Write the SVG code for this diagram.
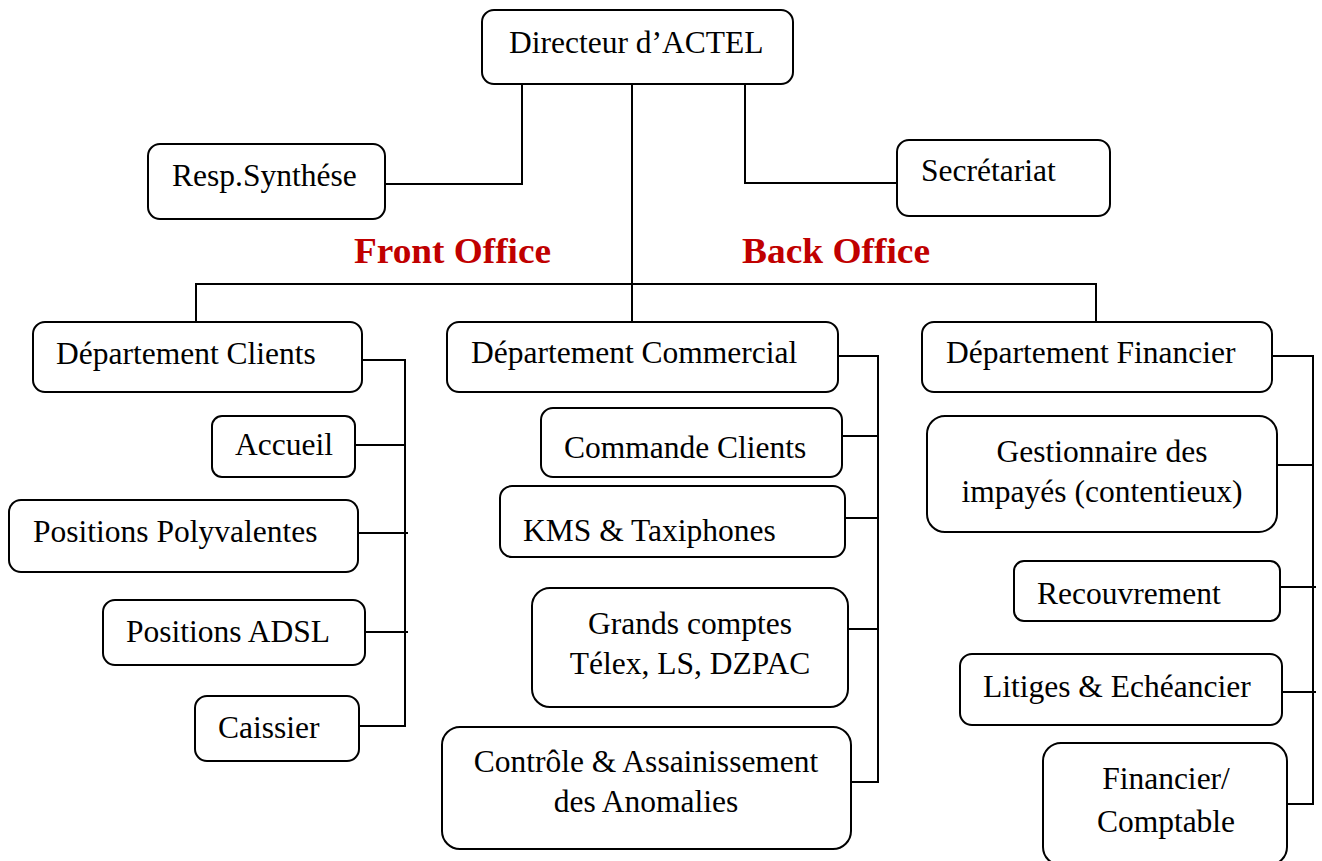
<svg xmlns="http://www.w3.org/2000/svg" width="1322" height="861" viewBox="0 0 1322 861">
<style>
.box{fill:#fff;stroke:#000;stroke-width:2}
.t{font-family:"Liberation Serif","Times New Roman",serif;font-size:31.5px;fill:#000}
.c{text-anchor:middle}
.lbl{font-family:"Liberation Serif","Times New Roman",serif;font-size:35px;font-weight:bold;fill:#C00000}
.ln{fill:none;stroke:#000;stroke-width:2}
</style>
<rect width="1322" height="861" fill="#fff"/>
<g id="connectors">
<path class="ln" d="M385,184 H522 V84"/>
<path class="ln" d="M745,84 V183 H897"/>
<path class="ln" d="M632,84 V322"/>
<path class="ln" d="M196,322 V284 H1096 V322"/>
<path class="ln" d="M362,360 H405 V726 H359"/>
<path class="ln" d="M355,445 H405"/>
<path class="ln" d="M358,533 H408"/>
<path class="ln" d="M365,632 H408"/>
<path class="ln" d="M838,356 H878 V782 H851"/>
<path class="ln" d="M842,436 H878"/>
<path class="ln" d="M845,518 H878"/>
<path class="ln" d="M848,629 H878"/>
<path class="ln" d="M1272,356 H1313 V804 H1287"/>
<path class="ln" d="M1277,465 H1313"/>
<path class="ln" d="M1280,587 H1316"/>
<path class="ln" d="M1282,692 H1316"/>
</g>
<g id="labels">
<text class="lbl" x="354" y="263" textLength="197" lengthAdjust="spacingAndGlyphs">Front Office</text>
<text class="lbl" x="742" y="263" textLength="188" lengthAdjust="spacingAndGlyphs">Back Office</text>
</g>
<g id="directeur"><rect class="box" x="482" y="10" width="311" height="74" rx="12"/><text class="t" x="509" y="53">Directeur d’ACTEL</text></g>
<g id="resp-synthese"><rect class="box" x="148" y="144" width="237" height="75" rx="12"/><text class="t" x="172" y="186">Resp.Synthése</text></g>
<g id="secretariat"><rect class="box" x="897" y="140" width="213" height="76" rx="12"/><text class="t" x="921" y="181">Secrétariat</text></g>

<g id="dep-clients"><rect class="box" x="33" y="322" width="329" height="70" rx="12"/><text class="t" x="56" y="364">Département Clients</text></g>
<g id="accueil"><rect class="box" x="212" y="416" width="143" height="61" rx="10"/><text class="t" x="235" y="455">Accueil</text></g>
<g id="positions-polyvalentes"><rect class="box" x="9" y="500" width="349" height="72" rx="12"/><text class="t" x="33" y="542">Positions Polyvalentes</text></g>
<g id="positions-adsl"><rect class="box" x="103" y="600" width="262" height="65" rx="12"/><text class="t" x="126" y="642">Positions ADSL</text></g>
<g id="caissier"><rect class="box" x="195" y="696" width="164" height="65" rx="12"/><text class="t" x="218" y="738">Caissier</text></g>

<g id="dep-commercial"><rect class="box" x="447" y="322" width="391" height="70" rx="12"/><text class="t" x="471" y="363">Département Commercial</text></g>
<g id="commande-clients"><rect class="box" x="541" y="408" width="301" height="69" rx="12"/><text class="t" x="564" y="458">Commande Clients</text></g>
<g id="kms"><rect class="box" x="500" y="486" width="345" height="71" rx="12"/><text class="t" x="523" y="541">KMS &amp; Taxiphones</text></g>
<g id="grands-comptes"><rect class="box" x="532" y="588" width="316" height="119" rx="18"/><text class="t c" x="690" y="634">Grands comptes</text><text class="t c" x="690" y="674">Télex, LS, DZPAC</text></g>
<g id="controle"><rect class="box" x="442" y="727" width="409" height="122" rx="18"/><text class="t c" x="646" y="772">Contrôle &amp; Assainissement</text><text class="t c" x="646" y="812">des Anomalies</text></g>

<g id="dep-financier"><rect class="box" x="922" y="322" width="350" height="70" rx="12"/><text class="t" x="946" y="363">Département Financier</text></g>
<g id="gestionnaire"><rect class="box" x="927" y="416" width="350" height="116" rx="18"/><text class="t c" x="1102" y="462">Gestionnaire des</text><text class="t c" x="1102" y="502">impayés (contentieux)</text></g>
<g id="recouvrement"><rect class="box" x="1014" y="561" width="266" height="60" rx="10"/><text class="t" x="1037" y="604">Recouvrement</text></g>
<g id="litiges"><rect class="box" x="960" y="654" width="322" height="71" rx="12"/><text class="t" x="983" y="697">Litiges &amp; Echéancier</text></g>
<g id="financier-comptable"><rect class="box" x="1043" y="743" width="244" height="122" rx="18"/><text class="t c" x="1166" y="789">Financier/</text><text class="t c" x="1166" y="832">Comptable</text></g>
</svg>
